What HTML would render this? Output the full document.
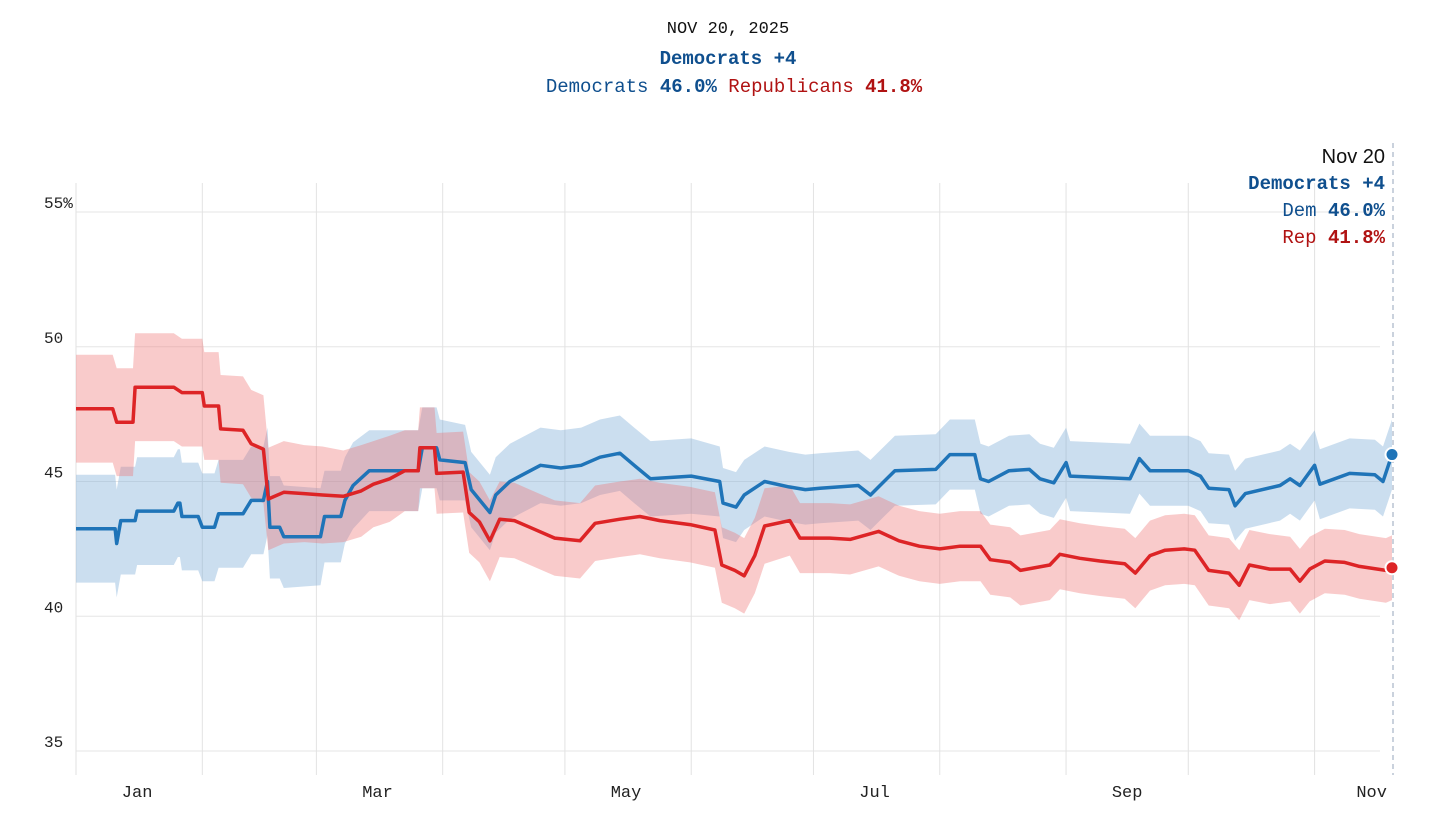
<!DOCTYPE html>
<html><head><meta charset="utf-8"><style>
body{margin:0;background:#fff;width:1456px;height:825px;overflow:hidden;font-family:"Liberation Mono","DejaVu Sans Mono",monospace}
svg{position:absolute;left:0;top:0}
</style></head><body>
<svg id="chart" width="1456" height="825" xmlns="http://www.w3.org/2000/svg"></svg>
<script>
const tickValues=[35,40,45,50,55];
const tickLabels=["35","40","45","50","55%"];
const monthStarts=[0,31,59,90,120,151,181,212,243,273,304];
const monthLabels=["Jan","Mar","May","Jul","Sep","Nov"];
const monthLabelDays=[15,74,135,196,258,318];
const demDays=[0,9.6,10,11,14.5,15,24,25,25.5,26,30,31,34,35,41,43,46,47,47.6,50,51,60,61,65,66,68,72,84,85,88.5,89.3,95.5,97,101.6,103,106.5,109,114,119,124,128.6,133.5,137,141,151,158,158.8,162,164,169,175,179,182.6,192,195,197,201,211,214.5,220.6,222,224,229,234,236.6,240,243,244,258.7,261,263.6,273,276,278,283,284.5,287,295.5,298,300.4,304,305.3,312.6,318.8,320.8,323];
const demVals=[43.25,43.25,42.7,43.55,43.55,43.9,43.9,44.2,44.2,43.7,43.7,43.3,43.3,43.8,43.8,44.3,44.3,45.0,43.3,43.3,42.95,42.95,43.7,43.7,44.3,44.85,45.4,45.4,46.25,46.25,45.8,45.7,44.7,43.85,44.5,45.0,45.2,45.6,45.5,45.6,45.9,46.05,45.6,45.1,45.2,45.0,44.2,44.05,44.5,45.0,44.8,44.7,44.75,44.85,44.5,44.8,45.4,45.45,46.0,46.0,45.1,45.0,45.4,45.45,45.1,44.95,45.7,45.2,45.1,45.85,45.4,45.4,45.2,44.75,44.7,44.1,44.55,44.85,45.1,44.85,45.6,44.9,45.3,45.25,45.0,46.0];
const demMargin=[2,2,2,2,2,2,2,2,2,2,2,2,2,2,2,2,2,2,1.9,1.9,1.9,1.8,1.7,1.7,1.6,1.6,1.5,1.5,1.5,1.5,1.5,1.4,1.4,1.4,1.4,1.4,1.4,1.4,1.4,1.4,1.4,1.4,1.4,1.4,1.4,1.3,1.3,1.3,1.3,1.3,1.3,1.3,1.3,1.3,1.3,1.3,1.3,1.3,1.3,1.3,1.3,1.3,1.3,1.3,1.3,1.3,1.3,1.3,1.3,1.3,1.3,1.3,1.3,1.3,1.3,1.3,1.3,1.3,1.3,1.3,1.3,1.3,1.3,1.3,1.3,1.3];
const repDays=[0,9,10,14,14.5,24,26,31,31.5,35,35.5,41,43,46,47.2,51,56,60.5,65.6,70,73,77,80.7,84,84.4,88,88.5,95,96.5,99,101.6,104,107.6,111.4,117.5,123.7,127.4,133.5,138.4,143.3,150.7,156.8,158.5,161.7,164,166.6,169,175.2,177.7,185,190,197,202,207,212,217,222,224.4,229.3,231.8,239,241.5,246.4,251.3,257.4,260,263.6,267.3,272,274.6,278,283,285.5,288,293,298,300.4,302.8,306.5,311.4,315,321.5,323];
const repVals=[47.7,47.7,47.2,47.2,48.5,48.5,48.3,48.3,47.8,47.8,46.95,46.9,46.4,46.2,44.35,44.6,44.55,44.5,44.45,44.65,44.9,45.1,45.4,45.4,46.25,46.25,45.3,45.35,43.85,43.5,42.8,43.6,43.55,43.3,42.9,42.8,43.45,43.6,43.7,43.55,43.4,43.2,41.9,41.7,41.5,42.25,43.35,43.55,42.9,42.9,42.85,43.15,42.8,42.6,42.5,42.6,42.6,42.1,42.0,41.7,41.9,42.3,42.15,42.05,41.95,41.6,42.25,42.45,42.5,42.45,41.7,41.6,41.15,41.9,41.75,41.75,41.3,41.75,42.05,42.0,41.85,41.7,41.8];
const repMargin=[2,2,2,2,2,2,2,2,2,2,2,2,2,2,1.9,1.9,1.8,1.8,1.7,1.7,1.6,1.6,1.5,1.5,1.5,1.5,1.5,1.5,1.5,1.5,1.5,1.4,1.4,1.4,1.4,1.4,1.4,1.4,1.4,1.4,1.4,1.4,1.4,1.4,1.4,1.4,1.4,1.3,1.3,1.3,1.3,1.3,1.3,1.3,1.3,1.3,1.3,1.3,1.3,1.3,1.3,1.3,1.3,1.3,1.3,1.3,1.3,1.3,1.3,1.3,1.3,1.3,1.3,1.3,1.3,1.2,1.2,1.2,1.2,1.2,1.2,1.2,1.2];

const svg=document.getElementById('chart');
const NS='http://www.w3.org/2000/svg';
const X0=76,X1=1392,D1=323,Y55=212,Y35=751;
const xs=d=>X0+(X1-X0)*d/D1;
const ys=v=>Y35+(Y55-Y35)*(v-35)/20;
function mk(tag,attrs,parent){const e=document.createElementNS(NS,tag);for(const k in attrs)e.setAttribute(k,attrs[k]);(parent||svg).appendChild(e);return e;}
function txt(s,attrs){const t=mk('text',attrs);t.textContent=s;return t;}

// grid
for(let i=0;i<tickValues.length;i++){
  const l=mk('line',{x1:X0,x2:1380,y1:ys(tickValues[i]),y2:ys(tickValues[i]),stroke:'#e6e6e6','stroke-width':1});
  
  
  const t=txt(tickLabels[i],{x:44,y:ys(tickValues[i])-4,'font-size':16,fill:'#222','font-family':'Liberation Mono, monospace'});
  
  
}
for(let i=0;i<monthStarts.length;i++){
  const l=mk('line',{x1:xs(monthStarts[i]),x2:xs(monthStarts[i]),y1:183,y2:775,stroke:'#e2e2e2','stroke-width':1});
  
  
}
for(let i=0;i<monthLabels.length;i++){
  const t=txt(monthLabels[i],{x:xs(monthLabelDays[i]),y:797,'font-size':17,fill:'#222','text-anchor':'middle'});
  
  
}
const dl=mk('line',{x1:1393,x2:1393,y1:143,y2:775,stroke:'#b8c4d2','stroke-width':1.5,'stroke-dasharray':'5,4'});



function band(days,vals,marg,fill,name){
  let p='';
  for(let i=0;i<days.length;i++)p+=(i?'L':'M')+xs(days[i]).toFixed(1)+','+ys(vals[i]+marg[i]).toFixed(1);
  for(let i=days.length-1;i>=0;i--)p+='L'+xs(days[i]).toFixed(1)+','+ys(vals[i]-marg[i]).toFixed(1);
  const e=mk('path',{d:p+'Z',fill:fill});
  
  
}
function line(days,vals,col,name){
  let p='';
  for(let i=0;i<days.length;i++)p+=(i?'L':'M')+xs(days[i]).toFixed(1)+','+ys(vals[i]).toFixed(1);
  const e=mk('path',{d:p,fill:'none',stroke:col,'stroke-width':3.5,'stroke-linejoin':'round'});
  
  
}
band(demDays,demVals,demMargin,'rgba(125,172,214,0.4)','dem-confidence-band');
band(repDays,repVals,repMargin,'rgba(238,112,112,0.36)','rep-confidence-band');
line(demDays,demVals,'#1f74b8','dem-line');
line(repDays,repVals,'#dd2426','rep-line');
const n1=demDays.length-1,n2=repDays.length-1;
const d1=mk('circle',{cx:xs(demDays[n1]),cy:ys(demVals[n1]),r:6.5,fill:'#1f74b8',stroke:'#fff','stroke-width':2});


const d2=mk('circle',{cx:xs(repDays[n2]),cy:ys(repVals[n2]),r:6.5,fill:'#dd2426',stroke:'#fff','stroke-width':2});


</script>
<svg width="1456" height="825" style="pointer-events:none">
<text x="728" y="33" text-anchor="middle" font-size="17" fill="#111" font-family="Liberation Mono, monospace">NOV 20, 2025</text>
<text x="728" y="64" text-anchor="middle" font-size="19" font-weight="bold" fill="#0f4f8e" font-family="Liberation Mono, monospace">Democrats +4</text>
<text x="734" y="92" text-anchor="middle" font-size="19" font-family="Liberation Mono, monospace"><tspan fill="#0f4f8e">Democrats</tspan> <tspan fill="#0f4f8e" font-weight="bold">46.0%</tspan> <tspan fill="#b01212">Republicans</tspan> <tspan fill="#b01212" font-weight="bold">41.8%</tspan></text>
<text x="1385" y="163" text-anchor="end" font-size="20" fill="#111" font-family="Liberation Sans, sans-serif">Nov 20</text>
<text x="1385" y="189" text-anchor="end" font-size="19" font-weight="bold" fill="#0f4f8e" font-family="Liberation Mono, monospace">Democrats +4</text>
<text x="1385" y="216" text-anchor="end" font-size="19" fill="#0f4f8e" font-family="Liberation Mono, monospace">Dem <tspan font-weight="bold">46.0%</tspan></text>
<text x="1385" y="243" text-anchor="end" font-size="19" fill="#b01212" font-family="Liberation Mono, monospace">Rep <tspan font-weight="bold">41.8%</tspan></text>
</svg>
</body></html>
